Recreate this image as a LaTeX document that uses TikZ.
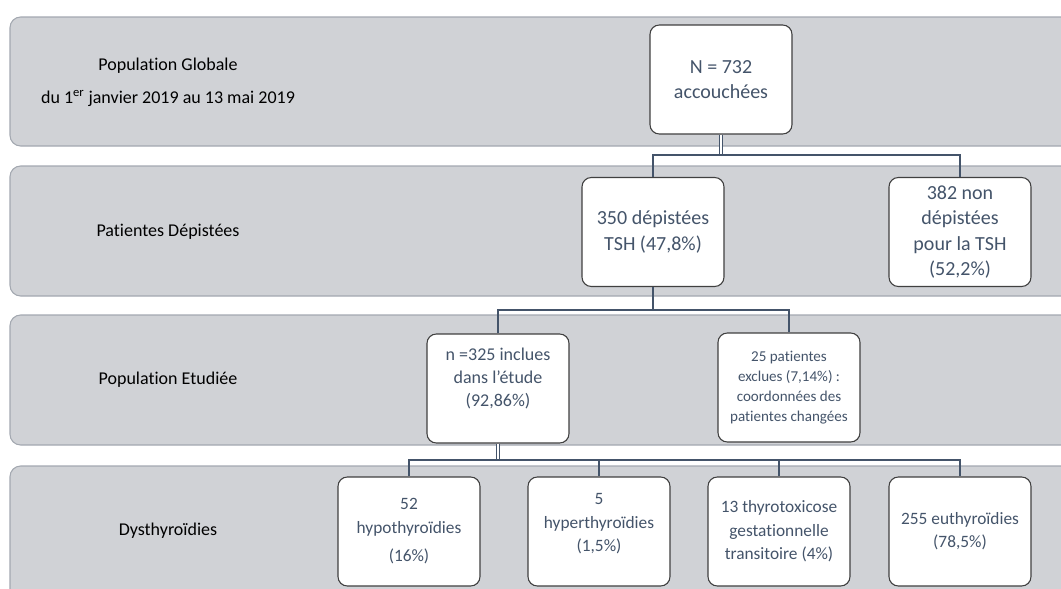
\documentclass[tikz,border=0pt]{standalone}
\usepackage{fontspec}
\setmainfont[Ligatures=NoCommon]{Carlito}
\usetikzlibrary{positioning}
\definecolor{dysband}{HTML}{D0D2D6}
\definecolor{dysedge}{HTML}{A3A8B0}
\definecolor{dysbox}{HTML}{404040}
\definecolor{dysslate}{HTML}{44546A}
\tikzset{
  band/.style={rounded corners=8pt,draw=dysedge,fill=dysband,line width=0.8pt},
  lbl/.style={align=center,text=black,font=\fontsize{13.5}{16}\selectfont},
  box/.style={rounded corners=7pt,draw=dysbox,fill=white,line width=0.8pt,align=center,inner sep=2pt,minimum width=106.5pt,minimum height=81.75pt,text=dysslate,font=\fontsize{15}{19}\selectfont},
  boxmid/.style={box,font=\fontsize{13.5}{17.25}\selectfont},
  boxsm/.style={box,font=\fontsize{11.3}{15}\selectfont},
  boxlow/.style={box,font=\fontsize{13}{17.5}\selectfont},
  link/.style={draw=dysslate,line width=0.8pt},
  dlink/.style={link,double=white,double distance=1pt},
}
\begin{document}
\begin{tikzpicture}[x=0.75pt,y=-0.75pt]
  \useasboundingbox (0,0) rectangle (1061,589);
  \clip (0,0) rectangle (1061,589);
  % bands
  \draw[band] (10,17) rectangle (1085,146);
  \draw[band] (10,166) rectangle (1085,296);
  \draw[band] (10,315) rectangle (1085,445);
  \draw[band] (10,466) rectangle (1085,625);
  \node[lbl] (l1) at (168,82.5) {Population Globale\\[8.5pt]du 1\textsuperscript{er} janvier 2019 au 13 mai 2019};
  \node[lbl] (l2) at (168,232) {Patientes Dépistées};
  \node[lbl] (l3) at (168,380) {Population Etudiée};
  \node[lbl] (l4) at (168,531) {Dysthyroïdies};
  % boxes
  \node[box] (top) at (721,79.5) {N = 732\\accouchées};
  \node[box] (scr) at (653,232) {350 dépistées\\TSH (47,8\%)};
  \node[box] (nscr) at (960,232) {382 non\\dépistées\\pour la TSH\\(52,2\%)};
  \node[boxmid] (incl) at (498,388.5) {n =325 inclues\\dans l’étude\\(92,86\%)\\\mbox{}};
  \node[boxsm] (excl) at (789,387.5) {25 patientes\\exclues (7,14\%) :\\coordonnées des\\patientes changées};
  \node[boxlow] (hypo) at (409,531.5) {52\\hypothyroïdies\\[4pt](16\%)};
  \node[boxlow] (hyper) at (599,531.5) {5\\hyperthyroïdies\\(1,5\%)\\[-4pt]\mbox{}};
  \node[boxlow] (toxi) at (779,531.5) {13 thyrotoxicose\\gestationnelle\\transitoire (4\%)};
  \node[boxlow] (eu) at (960,531.5) {255 euthyroïdies\\(78,5\%)};
  % connectors
  \coordinate (j1) at (721,155);
  \coordinate (j2) at (653,310);
  \coordinate (j3) at (498,460);
  \draw[dlink] (top.south) -- (top.south |- j1);
  \draw[link] (scr.north) |- (j1) -| (nscr.north);
  \draw[link] (scr.south) -- (j2);
  \draw[link] (incl.north) |- (j2) -| (excl.north);
  \draw[dlink] (incl.south) -- (j3);
  \draw[link] (hypo.north) |- (j3) -| (eu.north);
  \draw[link] (hyper.north) -- (hyper.north |- j3);
  \draw[link] (toxi.north) -- (toxi.north |- j3);
\end{tikzpicture}
\end{document}
